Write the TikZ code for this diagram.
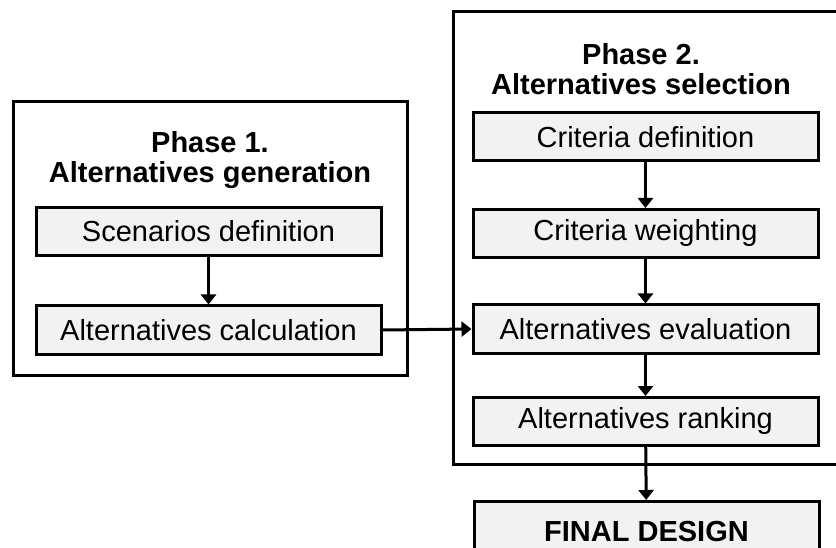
\documentclass[tikz,border=0pt]{standalone}
\usepackage{fontspec}
\setmainfont{Liberation Sans}
\usetikzlibrary{arrows.meta}
\tikzset{
  phasebox/.style={draw=black, line width=3pt, fill=white, inner sep=0pt},
  stepbox/.style={draw=black, line width=3pt, fill=black!5, inner sep=0pt,
    minimum width=345pt, minimum height=48pt, font=\fontsize{29}{30}\selectfont},
  titletext/.style={align=center, inner sep=0pt, font=\bfseries\fontsize{29}{30}\selectfont},
  flow/.style={line width=3pt, -{Triangle[width=15pt,length=10pt]}}
}
\begin{document}
\begin{tikzpicture}[x=1pt,y=-1pt]
\clip (0,0) rectangle (836,548);
\fill[white] (0,0) rectangle (836,548);
% outer phase boxes
\node[phasebox, minimum width=394pt, minimum height=273pt] (ph1) at (210,238.5) {};
\node[phasebox, minimum width=400pt, minimum height=453pt, anchor=north west] (ph2) at (452,10) {};
% titles
\node[titletext] (t1) at (210,160) {Phase 1.\\Alternatives generation};
\node[titletext] (t2) at (641,69) {Phase 2.\\Alternatives selection};
% phase 1 steps
\node[stepbox] (sd) at (208.5,231.5) {Scenarios definition};
\node[stepbox] (ac) at (208.5,330) {Alternatives calculation};
% phase 2 steps
\node[stepbox] (cd) at (645.5,137) {Criteria definition};
\node[stepbox] (cw) at (645.5,233.5) {Criteria weighting};
\node[stepbox] (ae) at (645.5,329) {Alternatives evaluation};
\node[stepbox] (ar) at (645.5,421.5) {Alternatives ranking};
\node[stepbox, minimum height=60pt, anchor=north, font=\bfseries\fontsize{29}{30}\selectfont] (fd) at (646.5,500) {\raisebox{-10pt}{FINAL DESIGN}};
% connectors
\draw[flow] (sd) -- (ac);
\draw[flow] (ac.east) -- (ae.west);
\draw[flow] (cd) -- (cw);
\draw[flow] (cw) -- (ae);
\draw[flow] (ae) -- (ar);
\draw[flow] (ar) -- (fd);
\end{tikzpicture}
\end{document}
